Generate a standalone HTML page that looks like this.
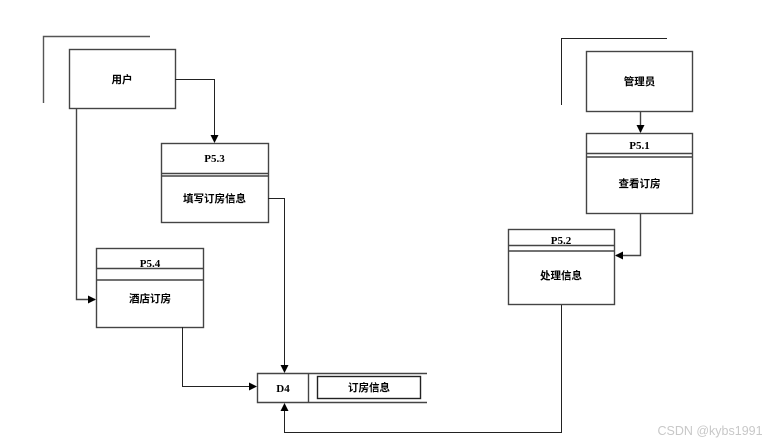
<!DOCTYPE html>
<html><head><meta charset="utf-8"><style>
html,body{margin:0;padding:0;background:#fff;width:780px;height:445px;overflow:hidden}
svg{display:block}
text{font-family:"Liberation Serif","Noto Serif CJK SC",serif;font-weight:bold;font-size:11px;fill:#000;text-anchor:middle}
.cj{font-family:"Liberation Sans","Noto Sans CJK SC",sans-serif;font-size:10.5px}
</style></head><body>
<svg width="780" height="445" viewBox="0 0 780 445">
<defs><marker id="a" markerWidth="8" markerHeight="8" refX="7" refY="4" orient="auto" markerUnits="userSpaceOnUse"><path d="M0,0 L8,4 L0,8z" fill="#000"/></marker></defs>
<g fill="none" stroke="#444" stroke-width="1.4">
<!-- user -->
<polyline points="43.5,103 43.5,36.5 150,36.5" stroke="#555"/>
<rect x="69.5" y="49.5" width="106" height="59" fill="#fff"/>
<polyline points="175,79.5 214.5,79.5 214.5,142" stroke="#222" stroke-width="1" marker-end="url(#a)"/>
<!-- P5.3 -->
<rect x="161.5" y="143.5" width="107" height="79"/>
<line x1="161" y1="173.5" x2="268" y2="173.5"/><line x1="161" y1="176" x2="268" y2="176"/>
<polyline points="268,198.5 284.5,198.5 284.5,372" stroke="#222" stroke-width="1" marker-end="url(#a)"/>
<!-- user left -->
<polyline points="76.5,108 76.5,299.5 95,299.5" marker-end="url(#a)"/>
<!-- P5.4 -->
<rect x="96.5" y="248.5" width="107" height="79"/>
<line x1="96" y1="268.5" x2="203" y2="268.5"/><line x1="96" y1="280" x2="203" y2="280"/>
<polyline points="182.5,327 182.5,386.5 256,386.5" stroke="#222" stroke-width="1" marker-end="url(#a)"/>
<!-- D4 -->
<polyline points="427,373.5 257.5,373.5 257.5,402.5 427,402.5"/>
<line x1="308.5" y1="373" x2="308.5" y2="403"/>
<rect x="317.5" y="376.5" width="103" height="22" stroke="#222"/>
<polyline points="561.5,305 561.5,432.5 284.5,432.5 284.5,404" stroke="#222" stroke-width="1" marker-end="url(#a)"/>
<!-- admin -->
<polyline points="561.5,105 561.5,38.5 667,38.5" stroke="#222" stroke-width="1"/>
<rect x="586.5" y="51.5" width="106" height="60" fill="#fff"/>
<line x1="640.5" y1="111" x2="640.5" y2="132" marker-end="url(#a)"/>
<!-- P5.1 -->
<rect x="586.5" y="133.5" width="106" height="80"/>
<line x1="586" y1="153.5" x2="692" y2="153.5"/><line x1="586" y1="157" x2="692" y2="157"/>
<polyline points="640.5,213 640.5,255.5 616,255.5" marker-end="url(#a)"/>
<!-- P5.2 -->
<rect x="508.5" y="229.5" width="106" height="75"/>
<line x1="508" y1="245.5" x2="614" y2="245.5"/><line x1="508" y1="251" x2="614" y2="251"/>
</g>
<text class="cj" x="122" y="83">用户</text>
<text x="214.5" y="162">P5.3</text>
<text class="cj" x="214.5" y="202">填写订房信息</text>
<text x="150" y="267">P5.4</text>
<text class="cj" x="150" y="302">酒店订房</text>
<text x="283" y="392">D4</text>
<text class="cj" x="369" y="391">订房信息</text>
<text class="cj" x="639.5" y="85">管理员</text>
<text x="639.5" y="149">P5.1</text>
<text class="cj" x="639.5" y="187">查看订房</text>
<text x="561" y="244">P5.2</text>
<text class="cj" x="561" y="279">处理信息</text>
<text x="710" y="435" style="font-family:'Liberation Sans',sans-serif;font-weight:normal;font-size:12.5px;fill:#c8c8c8">CSDN @kybs1991</text>
</svg>
</body></html>
